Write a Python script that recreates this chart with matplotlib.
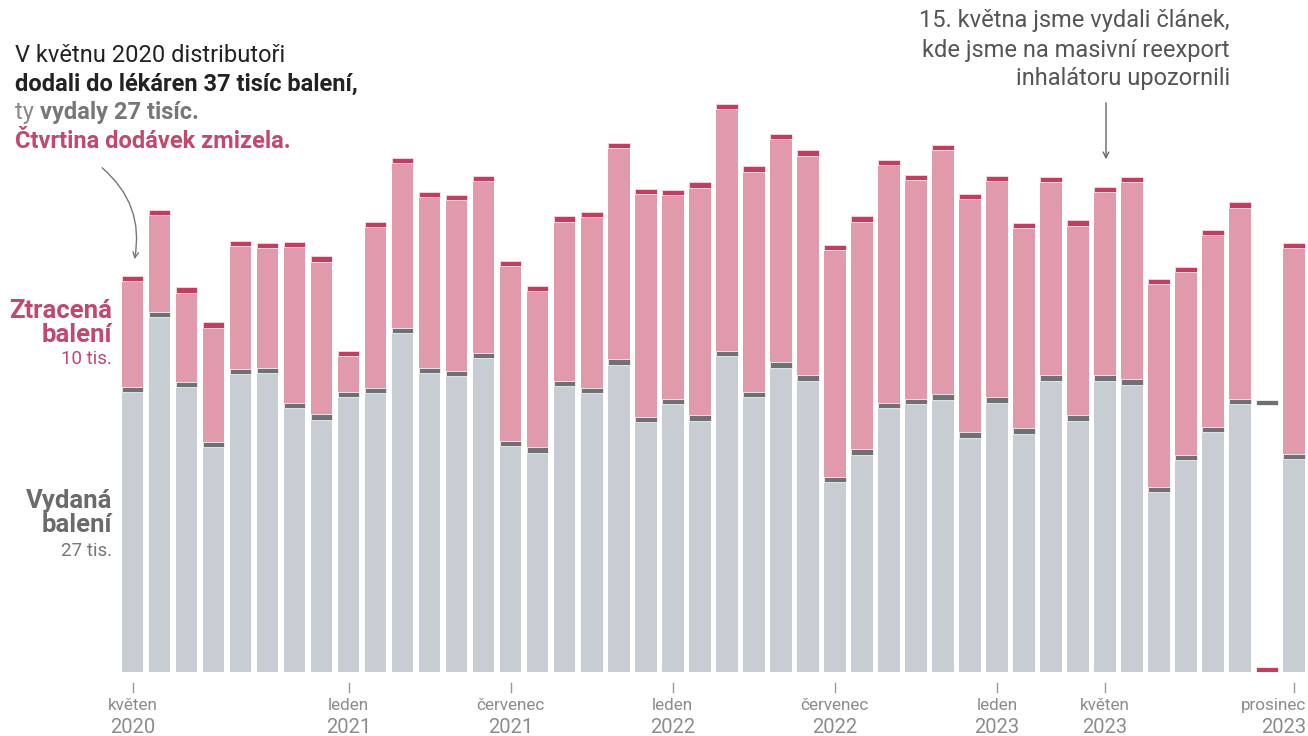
import matplotlib.pyplot as plt
import matplotlib.transforms as mtransforms
import numpy as np

plt.rcParams['font.family'] = ['Roboto', 'DejaVu Sans']

# tisice baleni, kveten 2020 - prosinec 2023
vydano = [26.9, 34.0, 27.4, 21.7, 28.6, 28.7, 25.4, 24.3, 26.4, 26.8,
          32.5, 28.7, 28.4, 30.1, 21.8, 21.2, 27.5, 26.8, 29.5, 24.1,
          25.8, 24.2, 30.3, 26.4, 29.2, 28.0, 18.4, 21.0, 25.4, 25.8,
          26.2, 22.6, 25.9, 23.0, 28.0, 24.2, 28.0, 27.6, 17.5, 20.5,
          23.1, 25.8, 25.7, 20.6]
dodano = [37.4, 43.6, 36.3, 33.0, 40.7, 40.5, 40.6, 39.2, 30.3, 42.5,
          48.5, 45.3, 45.0, 46.8, 38.8, 36.4, 43.0, 43.4, 49.9, 45.6,
          45.5, 46.2, 53.6, 47.7, 50.8, 49.2, 40.3, 43.0, 48.3, 46.9,
          49.7, 45.1, 46.8, 42.4, 46.7, 42.6, 45.8, 46.7, 37.1, 38.2,
          41.7, 44.3, 0.0, 40.5]

tick_idx = [0, 8, 14, 20, 26, 32, 36, 43]
tick_mesic = ['květen', 'leden', 'červenec', 'leden', 'červenec', 'leden', 'květen', 'prosinec']
tick_rok = ['2020', '2021', '2021', '2022', '2022', '2023', '2023', '2023']

W, H = 1308, 736
fig = plt.figure(figsize=(W / 100, H / 100), dpi=100)
ax = fig.add_axes([119 / W, 64 / H, 1188.5 / W, 636 / H])

x = np.arange(len(vydano))
vyd = np.array(vydano)
dod = np.array(dodano)
cap = 0.5

ax.bar(x, np.minimum(vyd, dod), width=0.8, color='#c8ccd3')
ax.bar(x, np.clip(dod - vyd, 0, None), bottom=vyd, width=0.8, color='#e09aab')
ax.bar(x, cap, bottom=np.maximum(vyd - cap, 0), width=0.8, color='#6e7174',
       edgecolor='white', linewidth=0.5)
ax.bar(x, cap, bottom=np.maximum(dod - cap, 0), width=0.8, color='#c93a60',
       edgecolor='white', linewidth=0.5)

ax.set_xlim(-0.5, 43.5)
ax.set_ylim(0, 60)
ax.axis('off')

# osa x
trans = mtransforms.blended_transform_factory(ax.transData, ax.transAxes)
for i, m, r in zip(tick_idx, tick_mesic, tick_rok):
    ax.plot([i, i], [-0.018, -0.031], transform=trans, color='#999999', lw=1, clip_on=False)
    xx, ha = (i, 'center') if i != 43 else (43.45, 'right')
    ax.text(xx, -0.052, m, transform=trans, ha=ha, va='center', fontsize=12.3, color='#8c8c8c')
    ax.text(xx, -0.087, r, transform=trans, ha=ha, va='center', fontsize=14.5, color='#8c8c8c')


def ftxt(px, py, s, **kw):
    return fig.text(px / W, 1 - py / H, s, va='center', **kw)


# popisky vlevo
pink = '#c4476d'
ftxt(112, 311, 'Ztracená', ha='right', fontsize=18.5, fontweight='bold', color=pink)
ftxt(112, 335, 'balení', ha='right', fontsize=18.5, fontweight='bold', color=pink)
ftxt(112, 359, '10 tis.', ha='right', fontsize=13.5, color=pink)
ftxt(112, 501, 'Vydaná', ha='right', fontsize=18.5, fontweight='bold', color='#6b6b6b')
ftxt(112, 525, 'balení', ha='right', fontsize=18.5, fontweight='bold', color='#6b6b6b')
ftxt(112, 551, '27 tis.', ha='right', fontsize=13.5, color='#777777')

# anotace vlevo
fs = 17
ftxt(15, 55, 'V květnu 2020 distributoři', fontsize=fs, color='#222222')
ftxt(15, 84, 'dodali do lékáren 37 tisíc balení,', fontsize=fs, fontweight='bold', color='#222222')
t = ftxt(15, 112, 'ty ', fontsize=fs, color='#888888')
fig.canvas.draw()
bb = t.get_window_extent()
fig.text(bb.x1 / W, 1 - 112 / H, 'vydaly 27 tisíc.', va='center', fontsize=fs,
         fontweight='bold', color='#777777')
ftxt(15, 141, 'Čtvrtina dodávek zmizela.', fontsize=fs, fontweight='bold', color=pink)

ax.annotate('', xy=(134, H - 262), xytext=(100, H - 166), xycoords='figure pixels',
            textcoords='figure pixels',
            arrowprops=dict(arrowstyle='->', color='#777777', lw=1,
                            connectionstyle='arc3,rad=-0.3'))

# anotace vpravo
ftxt(1230, 21, '15. května jsme vydali článek,', ha='right', fontsize=fs, color='#555555')
ftxt(1230, 50, 'kde jsme na masivní reexport', ha='right', fontsize=fs, color='#555555')
ftxt(1230, 78, 'inhalátoru upozornili', ha='right', fontsize=fs, color='#555555')
ax.annotate('', xy=(1106, H - 162), xytext=(1106, H - 100), xycoords='figure pixels',
            textcoords='figure pixels',
            arrowprops=dict(arrowstyle='->', color='#666666', lw=1))

fig.savefig('out.png', dpi=100)
